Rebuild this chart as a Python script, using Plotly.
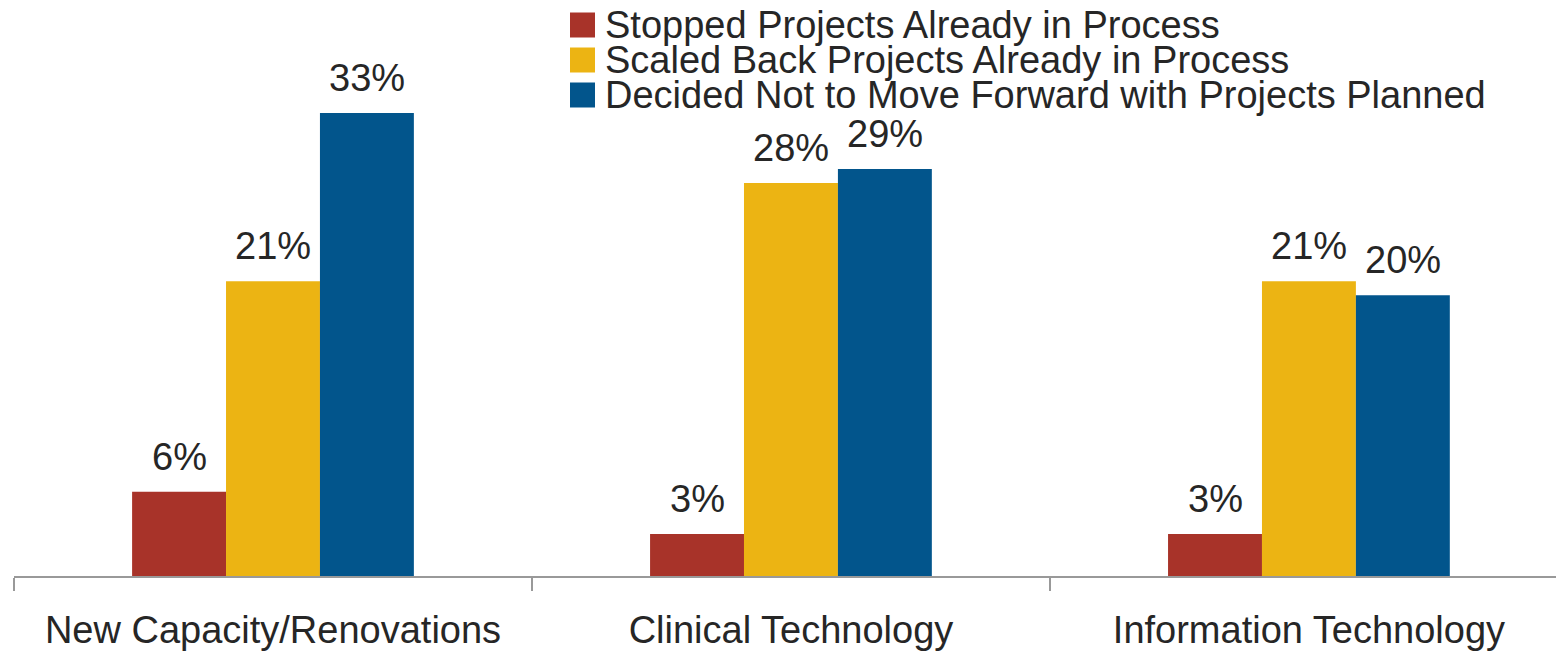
import plotly.graph_objects as go

categories = ["New Capacity/Renovations", "Clinical Technology", "Information Technology"]
series_names = [
    "Stopped Projects Already in Process",
    "Scaled Back Projects Already in Process",
    "Decided Not to Move Forward with Projects Planned",
]
stopped = [6, 3, 3]
scaled_back = [21, 28, 21]
not_forward = [33, 29, 20]
colors = ["#A83329", "#ECB413", "#02558C"]

FONT = "Liberation Sans, Arial, sans-serif"
TEXT = "#262626"
# the page body keeps an 8px margin, so the figure is offset by that amount
W, H = 1548, 643
ML, MB = 6, 75
BARGAP = 0.456
PLOT_H = H - MB

fig = go.Figure()
for name, vals, col in zip(series_names, [stopped, scaled_back, not_forward], colors):
    fig.add_trace(go.Bar(x=categories, y=vals, name=name, marker_color=col,
                         marker_line_width=0, showlegend=False))

# value labels above bars (shifted to the bar within its group)
x_range = [-0.5, 2.477]
cat_px = (W - ML) / (x_range[1] - x_range[0])
bar_px = cat_px * (1 - BARGAP) / 3
for i, vals in enumerate([stopped, scaled_back, not_forward]):
    for c, v in zip(categories, vals):
        fig.add_annotation(x=c, y=v, text=f"{v}%", showarrow=False,
                           xshift=(i - 1) * bar_px, yshift=35, yanchor="middle",
                           font=dict(family=FONT, size=38, color=TEXT))

# legend drawn by hand to keep the tight line spacing
for i, (name, col) in enumerate(zip(series_names, colors)):
    yc = 17 + i * 35
    fig.add_shape(type="rect", xref="paper", yref="paper",
                  x0=(562 - ML) / (W - ML), x1=(587 - ML) / (W - ML),
                  y0=1 - (yc - 12.5) / PLOT_H, y1=1 - (yc + 12.5) / PLOT_H,
                  fillcolor=col, line_width=0)
    fig.add_annotation(xref="paper", yref="paper", x=(595 - ML) / (W - ML),
                       y=1 - yc / PLOT_H, text=name, showarrow=False,
                       xanchor="left", yanchor="middle",
                       font=dict(family=FONT, size=38, color=TEXT))

fig.update_layout(
    width=W, height=H,
    margin=dict(l=ML, r=0, t=0, b=MB, autoexpand=False),
    plot_bgcolor="white", paper_bgcolor="white",
    barmode="group", bargap=BARGAP, bargroupgap=0,
    font=dict(family=FONT, size=38, color=TEXT),
    xaxis=dict(range=x_range, automargin=False, showline=True,
               linecolor="#999999", linewidth=2,
               ticks="outside", tickson="boundaries", ticklen=13, tickwidth=2,
               tickcolor="#999999", ticklabelstandoff=19,
               tickfont=dict(family=FONT, size=38, color=TEXT)),
    yaxis=dict(range=[0, 40.48], automargin=False, visible=False, showgrid=False),
)

fig.write_html("out.html")
